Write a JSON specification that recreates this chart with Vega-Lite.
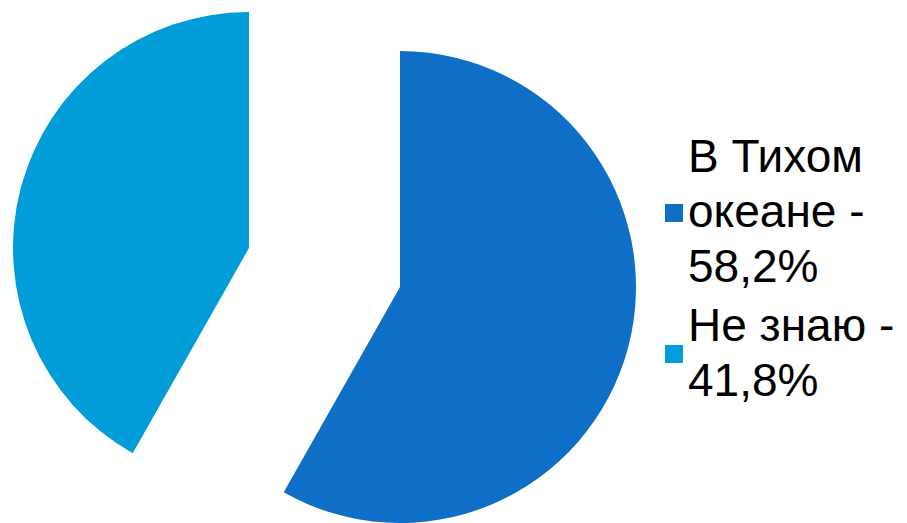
{
  "$schema": "https://vega.github.io/schema/vega-lite/v6.json",
  "width": 649,
  "height": 535,
  "padding": 0,
  "background": "white",
  "config": {"view": {"stroke": null}},
  "data": {
    "values": [
      {"answer": "В Тихом океане - 58,2%", "percent": 58.2},
      {"answer": "Не знаю - 41,8%", "percent": 41.8}
    ]
  },
  "transform": [
    {"stack": "percent", "groupby": [], "offset": "normalize", "sort": [{"field": "answer", "order": "ascending"}], "as": ["start", "end"]}
  ],
  "encoding": {
    "theta": {"field": "start", "type": "quantitative", "scale": {"domain": [0, 1]}},
    "theta2": {"field": "end"},
    "color": {
      "field": "answer",
      "type": "nominal",
      "scale": {"domain": ["В Тихом океане - 58,2%", "Не знаю - 41,8%"], "range": ["#0F6FC6", "#009DD9"]},
      "legend": {
        "orient": "none",
        "legendX": 651,
        "legendY": 190,
        "title": null,
        "labelFont": "Liberation Sans",
        "labelFontSize": 46,
        "labelColor": "#000000",
        "labelLimit": 400,
        "labelOffset": 0,
        "symbolType": "square",
        "symbolSize": 324,
        "symbolStrokeWidth": 0,
        "rowPadding": 12,
        "labelExpr": "datum.label == 'В Тихом океане - 58,2%' ? ['В Тихом', 'океане -', '58,2%'] : ['Не знаю -', '41,8%']",
        "encoding": {
          "labels": {
            "lineHeight": {"value": 55},
            "dx": {"value": -9},
            "dy": {"condition": {"test": "datum.value == 'В Тихом океане - 58,2%'", "value": -55}, "value": -27.5}
          }
        }
      }
    }
  },
  "layer": [
    {
      "transform": [{"filter": "datum.answer == 'В Тихом океане - 58,2%'"}],
      "mark": {"type": "arc", "outerRadius": 236, "xOffset": 75.5, "yOffset": 19.5}
    },
    {
      "transform": [{"filter": "datum.answer == 'Не знаю - 41,8%'"}],
      "mark": {"type": "arc", "outerRadius": 236, "xOffset": -75.5, "yOffset": -19.5}
    }
  ]
}
